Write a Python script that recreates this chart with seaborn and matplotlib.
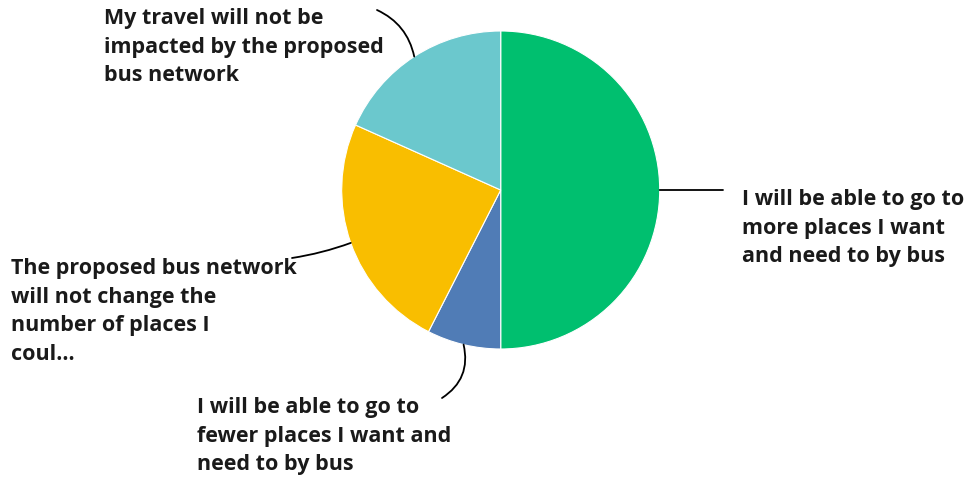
import numpy as np
import matplotlib
matplotlib.use("Agg")
import matplotlib.pyplot as plt
import seaborn as sns

# Survey answers and share of respondents (%)
answers = [
    "I will be able to go to\nmore places I want\nand need to by bus",
    "I will be able to go to\nfewer places I want and\nneed to by bus",
    "The proposed bus network\nwill not change the\nnumber of places I\ncoul...",
    "My travel will not be\nimpacted by the proposed\nbus network",
]
shares = [50.0, 7.5, 24.2, 18.3]
colors = ["#00BF6F", "#507CB6", "#F9BE00", "#6BC8CD"]

sns.set_theme(style="white")
plt.rcParams["font.family"] = ["Open Sans", "DejaVu Sans"]

W, H = 970, 478
fig = plt.figure(figsize=(W / 100, H / 100), dpi=100)
cx, cy, r = 500.7, 190.0, 159.0
ax = fig.add_axes([(cx - r) / W, (H - cy - r) / H, 2 * r / W, 2 * r / H])

wedges, _ = ax.pie(shares, colors=colors, startangle=90, counterclock=False,
                   radius=1.0, wedgeprops=dict(edgecolor="white", linewidth=0.8))
ax.set_xlim(-1, 1)
ax.set_ylim(-1, 1)
ax.set_aspect("equal")
ax.axis("off")


def px(x, y):
    """pixel position (from top-left) -> data coords of the pie axes"""
    return ((x - cx) / r, (cy - y) / r)


# label text anchors (left edge, top of first line) and leader end points
label_pos = [(742, 189), (197, 397), (11, 258), (104, 8)]
line_end = [(723, 190), (442, 398), (292, 258), (377, 10)]
rads = [0.0, 0.35, 0.05, -0.25]

for w, txt, (tx, ty), (lx, ly), rad in zip(wedges, answers, label_pos, line_end, rads):
    mid = np.deg2rad((w.theta1 + w.theta2) / 2)
    start = (np.cos(mid), np.sin(mid))
    ax.annotate("", xy=start, xytext=px(lx, ly),
                arrowprops=dict(arrowstyle="-", color="black", lw=1.3,
                                shrinkA=0, shrinkB=0,
                                connectionstyle=f"arc3,rad={rad}"),
                annotation_clip=False)
    ax.text(*px(tx, ty), txt, ha="left", va="top", fontsize=15.5,
            fontweight="bold", color="#1a1a1a", linespacing=1.47,
            clip_on=False)

fig.savefig("out.png", dpi=100)
